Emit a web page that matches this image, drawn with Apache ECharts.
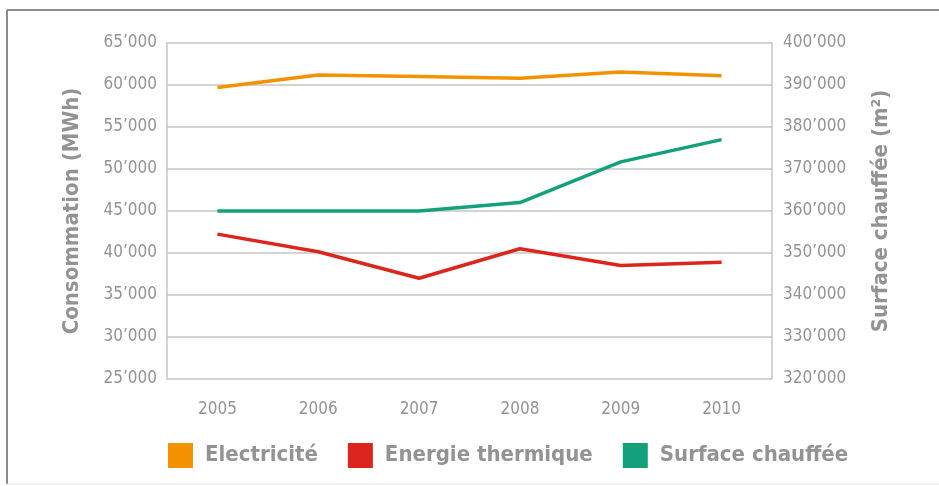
<!DOCTYPE html>
<html>
<head>
<meta charset="utf-8">
<script src="https://cdn.jsdelivr.net/npm/echarts@6/dist/echarts.min.js"></script>
<style>
  html, body { margin: 0; padding: 0; background: #fff; }
  #chart { width: 939px; height: 486px; }
</style>
</head>
<body>
<div id="chart"></div>
<script>
const years = ['2005', '2006', '2007', '2008', '2009', '2010'];
const electricite = [59700, 61200, 61000, 60800, 61550, 61100];
const energieThermique = [42250, 40150, 37000, 40500, 38500, 38900];
const surfaceChauffee = [360000, 360000, 360000, 362000, 371700, 377000];

const grey = '#939393';
const gridGrey = '#c4c4c4';
const tickFont = '"Liberation Sans Narrow", "DejaVu Sans Condensed", sans-serif';

const fmt = v => {
  const s = String(v);
  return s.slice(0, s.length - 3) + '\u2019' + s.slice(-3);
};

const chart = echarts.init(document.getElementById('chart'));

const option = {
  animation: false,
  backgroundColor: '#fff',
  graphic: [
    {type: 'line', shape: {x1: 7, y1: 10, x2: 939, y2: 10}, style: {stroke: '#8a8a8a', lineWidth: 2}},
    {type: 'line', shape: {x1: 7, y1: 10, x2: 7, y2: 484}, style: {stroke: '#8a8a8a', lineWidth: 2}},
    {type: 'line', shape: {x1: 7, y1: 484, x2: 939, y2: 484}, style: {stroke: '#e4e4e4', lineWidth: 1}},
  ],
  grid: {left: 167, right: 167, top: 43, bottom: 107},
  legend: {
    left: 163,
    top: 438,
    icon: 'rect',
    itemWidth: 25,
    itemHeight: 25,
    itemGap: 30,
    textStyle: {color: grey, fontSize: 22, fontWeight: 'bold', fontFamily: tickFont, padding: [0, 0, 0, 7]},
    data: ['Electricité', 'Energie thermique', 'Surface chauffée'],
  },
  xAxis: {
    type: 'category',
    data: years,
    boundaryGap: true,
    axisLine: {show: false},
    axisTick: {show: false},
    axisLabel: {color: grey, fontSize: 17, fontFamily: tickFont, margin: 22},
  },
  yAxis: [
    {
      type: 'value',
      min: 25000,
      max: 65000,
      interval: 5000,
      name: 'Consommation (MWh)',
      nameLocation: 'middle',
      nameGap: 84,
      nameTextStyle: {color: grey, fontSize: 22, fontWeight: 'bold', fontFamily: tickFont},
      axisLine: {show: true, lineStyle: {color: gridGrey, width: 1.5}},
      axisTick: {show: false},
      splitLine: {lineStyle: {color: gridGrey, width: 1.5}},
      axisLabel: {color: grey, fontSize: 17, fontFamily: tickFont, margin: 10, formatter: fmt},
    },
    {
      type: 'value',
      min: 320000,
      max: 400000,
      interval: 10000,
      name: 'Surface chauffée (m²)',
      nameLocation: 'middle',
      nameGap: 98,
      nameRotate: 90,
      nameTextStyle: {color: grey, fontSize: 22, fontWeight: 'bold', fontFamily: tickFont},
      axisLine: {show: true, lineStyle: {color: gridGrey, width: 1.5}},
      axisTick: {show: false},
      splitLine: {show: false},
      axisLabel: {color: grey, fontSize: 17, fontFamily: tickFont, margin: 11, formatter: fmt},
    },
  ],
  series: [
    {
      name: 'Electricité',
      type: 'line',
      data: electricite,
      yAxisIndex: 0,
      symbol: 'none',
      color: '#f39200',
      lineStyle: {width: 3.5},
    },
    {
      name: 'Energie thermique',
      type: 'line',
      data: energieThermique,
      yAxisIndex: 0,
      symbol: 'none',
      color: '#dc251c',
      lineStyle: {width: 3.5},
    },
    {
      name: 'Surface chauffée',
      type: 'line',
      data: surfaceChauffee,
      yAxisIndex: 1,
      symbol: 'none',
      color: '#13a07a',
      lineStyle: {width: 3.5},
    },
  ],
};

chart.setOption(option);
</script>
</body>
</html>
